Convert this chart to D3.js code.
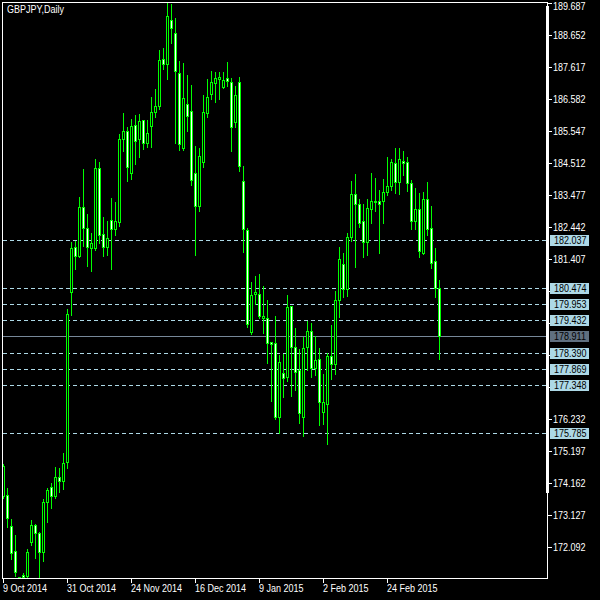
<!DOCTYPE html>
<html><head><meta charset="utf-8">
<script src="https://cdn.jsdelivr.net/npm/d3@7"></script>
<style>html,body{margin:0;padding:0;background:#000;} svg{display:block}</style>
</head><body>
<svg id="c" width="600" height="600"></svg>
<script>
const title = "GBPJPY,Daily";
const opens = [173.75,173.79,172.78,171.97,171.12,171.20,171.17,172.26,172.81,172.57,171.95,173.55,174.05,173.75,174.38,174.24,174.84,180.36,181.82,181.51,183.09,182.41,181.76,181.76,184.35,182.22,181.80,182.68,182.38,182.62,185.29,185.56,184.19,185.74,185.29,185.91,185.18,185.73,186.18,186.38,187.88,187.71,189.15,188.72,187.42,185.02,186.42,186.20,184.19,183.14,184.55,186.13,186.74,187.10,187.24,186.99,187.26,187.13,185.84,187.15,183.93,182.36,179.07,180.28,180.28,179.50,179.50,178.74,178.69,176.32,177.72,177.61,179.90,178.58,177.83,176.32,178.58,179.09,177.88,178.17,176.48,176.72,178.29,178.01,180.08,181.25,180.45,182.12,183.51,183.19,182.66,181.96,183.03,183.27,183.30,183.30,183.59,183.79,184.51,183.92,184.59,184.55,183.87,182.65,183.03,181.60,183.35,182.41,181.35,180.49];
const highs = [174.79,174.00,173.00,172.49,171.14,171.25,172.04,172.98,172.85,172.60,173.65,174.00,174.16,174.70,174.67,175.13,179.79,181.97,182.01,183.43,184.33,182.87,182.25,184.64,184.55,182.77,182.65,183.38,183.26,185.46,186.13,185.70,185.94,186.08,186.11,185.91,185.91,186.67,186.91,188.18,188.23,189.71,189.67,189.20,187.82,187.77,187.37,187.05,185.07,185.00,186.72,187.23,187.51,187.46,187.46,187.46,187.79,187.26,187.01,187.29,184.43,182.41,180.66,180.87,180.93,180.54,180.09,178.74,179.57,178.31,178.35,180.25,179.90,179.20,178.50,178.89,179.41,179.34,178.93,178.53,177.70,178.39,179.28,180.39,181.80,181.60,182.25,183.94,184.17,183.35,183.19,183.35,184.19,184.03,183.65,184.01,184.71,184.65,185.00,185.00,184.91,184.73,183.97,183.70,183.54,183.59,183.92,183.13,181.78,180.74];
const lows = [173.69,172.74,171.71,171.17,171.08,171.03,171.07,172.17,171.76,171.10,171.66,172.92,173.36,173.68,173.89,173.97,174.65,179.61,181.08,181.49,181.84,181.19,181.04,181.71,181.93,181.51,181.55,181.08,182.19,182.49,184.92,183.95,184.01,184.49,184.73,184.98,185.03,185.03,186.00,186.26,187.55,187.24,188.41,185.18,184.94,184.94,185.57,183.81,181.55,182.98,184.40,186.00,186.59,186.49,186.59,186.96,187.01,184.92,185.68,184.27,181.64,179.23,178.99,179.95,179.50,179.01,178.06,176.83,176.24,175.78,176.96,177.48,177.00,177.18,176.10,175.70,177.83,177.61,177.67,176.05,176.08,175.43,177.54,177.70,179.53,180.19,180.23,182.01,181.17,182.46,181.49,181.55,182.57,182.98,181.62,182.59,183.49,183.65,183.56,183.52,184.13,183.63,182.38,182.38,181.49,181.58,182.19,181.12,180.18,178.17];
const closes = [174.72,173.03,171.92,171.29,171.11,171.13,171.95,172.81,172.55,171.95,173.57,173.95,173.75,174.38,174.24,174.83,179.63,181.76,181.51,183.09,182.43,181.82,181.95,184.35,182.19,181.80,182.09,182.38,182.65,185.29,185.56,184.38,185.72,185.24,185.88,185.16,185.48,186.18,186.38,187.85,187.71,189.28,188.88,187.51,185.13,186.62,186.05,183.97,183.14,184.75,186.16,186.65,187.13,187.26,187.29,187.21,187.18,185.68,186.71,184.44,182.38,179.32,180.25,180.34,179.58,179.57,178.71,178.67,176.30,178.08,177.56,179.86,178.56,177.75,176.43,178.53,179.09,177.88,178.15,176.80,176.78,178.28,178.01,180.09,181.41,180.46,182.12,183.51,183.19,182.57,181.96,183.06,183.30,183.30,183.19,183.59,183.79,184.55,183.92,184.64,184.53,183.87,182.65,183.03,181.68,183.35,182.38,181.30,180.49,178.911];
const priceTicks = [189.687,188.652,187.617,186.582,185.547,184.512,183.477,182.442,181.407,180.372,179.337,178.302,177.267,176.232,175.197,174.162,173.127,172.092];
const dateLabels = ["9 Oct 2014","31 Oct 2014","24 Nov 2014","16 Dec 2014","9 Jan 2015","2 Feb 2015","24 Feb 2015"];
const dateBars = [0,16,32,48,64,80,96];
const levels = [182.037,180.474,179.953,179.432,178.390,177.869,177.348,175.785];
const lastPrice = 178.911;

const GREEN = "#00ff00", LEVEL = "#add8e6";
const FONT = "'Liberation Sans',Arial,sans-serif";
const SX = 0.82;
const svg = d3.select("#c");
svg.append("rect").attr("width",600).attr("height",600).attr("fill","#000");

const n = opens.length;
const x = d3.scaleLinear().domain([0, n-1]).range([3, 439]);
const y = d3.scaleLinear().domain([171.100, 189.729]).range([578, 2]);

function label(g, tx, ty, str, fill) {
  return g.append("text")
    .attr("transform", `translate(${tx},${ty}) scale(${SX},1)`)
    .attr("fill", fill).attr("font-family", FONT).attr("font-size", 11)
    .text(str);
}

svg.append("defs").append("clipPath").attr("id","plot")
  .append("rect").attr("x",3).attr("y",3).attr("width",544).attr("height",575);

// level lines
const lv = svg.append("g").attr("clip-path","url(#plot)");
lv.selectAll("line.lvl").data(levels).join("line")
  .attr("x1",3).attr("x2",547)
  .attr("y1",d=>Math.round(y(d))+0.5).attr("y2",d=>Math.round(y(d))+0.5)
  .attr("stroke",LEVEL).attr("stroke-width",1).attr("stroke-dasharray","4,3");
lv.append("line").attr("x1",3).attr("x2",547)
  .attr("y1",Math.round(y(lastPrice))+0.5).attr("y2",Math.round(y(lastPrice))+0.5)
  .attr("stroke","#778899").attr("stroke-width",1);

// candles
const cg = svg.append("g").attr("clip-path","url(#plot)");
const idx = d3.range(n);
cg.selectAll("line.wick").data(idx).join("line")
  .attr("x1",i=>Math.round(x(i))+0.5).attr("x2",i=>Math.round(x(i))+0.5)
  .attr("y1",i=>Math.round(y(highs[i]))).attr("y2",i=>Math.round(y(lows[i]))+1)
  .attr("stroke",GREEN).attr("stroke-width",1);
cg.selectAll("rect.body").data(idx).join("rect")
  .attr("x",i=>Math.round(x(i))-0.5)
  .attr("y",i=>Math.round(y(Math.max(opens[i],closes[i])))+0.5)
  .attr("width",2)
  .attr("height",i=>Math.max(0, Math.round(y(Math.min(opens[i],closes[i]))) - Math.round(y(Math.max(opens[i],closes[i])))))
  .attr("fill",i=>closes[i] >= opens[i] ? "#000" : "#fff")
  .attr("stroke",GREEN).attr("stroke-width",1);

// frame
const W = "#fff";
svg.append("line").attr("x1",2).attr("x2",548).attr("y1",2.5).attr("y2",2.5).attr("stroke",W);
svg.append("line").attr("x1",2.5).attr("x2",2.5).attr("y1",2).attr("y2",579).attr("stroke",W);
svg.append("line").attr("x1",2).attr("x2",548).attr("y1",578.5).attr("y2",578.5).attr("stroke",W);
svg.append("line").attr("x1",547.5).attr("x2",547.5).attr("y1",2).attr("y2",579).attr("stroke",W);
svg.append("rect").attr("x",546).attr("y",6).attr("width",3).attr("height",487).attr("fill",W);

// price axis (labels hidden under level boxes are not printed)
const covered = t => levels.concat([lastPrice]).some(l => Math.abs(y(l) - y(t)) < 10);
const ay = svg.append("g");
ay.selectAll("line.t").data(priceTicks).join("line")
  .attr("x1",548).attr("x2",552)
  .attr("y1",d=>Math.round(y(d))+0.5).attr("y2",d=>Math.round(y(d))+0.5)
  .attr("stroke",W);
priceTicks.filter(t => !covered(t)).forEach(t => {
  label(ay, 553, Math.max(10, Math.round(y(t)) + 4), t.toFixed(3), W);
});

// level boxes
const lb = svg.append("g");
levels.forEach(l => {
  lb.append("rect").attr("x",550).attr("y",Math.round(y(l))-5).attr("width",39).attr("height",11)
    .attr("fill",LEVEL);
  label(lb, 554, Math.round(y(l))+4, l.toFixed(3), "#000");
});
lb.append("rect").attr("x",550).attr("y",Math.round(y(lastPrice))-5).attr("width",39).attr("height",11)
  .attr("fill","#607080");
label(lb, 554, Math.round(y(lastPrice))+4, lastPrice.toFixed(3), "#000");

// date axis
const ax = svg.append("g");
ax.selectAll("line").data(dateBars).join("line")
  .attr("x1",i=>Math.round(x(i))+0.5).attr("x2",i=>Math.round(x(i))+0.5)
  .attr("y1",579).attr("y2",583).attr("stroke",W);
dateBars.forEach((b, j) => label(ax, Math.round(x(b)), 592, dateLabels[j], W));

label(svg, 7, 13, title, W);
</script>
</body></html>
